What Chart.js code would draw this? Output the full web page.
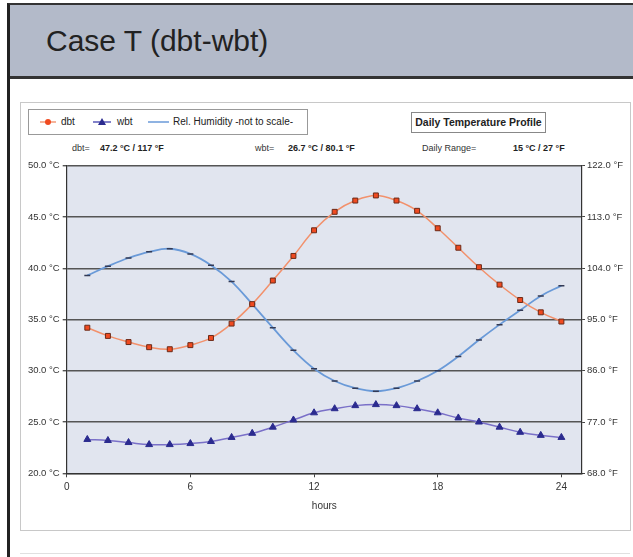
<!DOCTYPE html>
<html>
<head>
<meta charset="utf-8">
<script src="https://cdn.jsdelivr.net/npm/chart.js@4.4.0/dist/chart.umd.min.js"></script>
<style>
    body { margin: 0; width: 633px; height: 557px; background: #fff; position: relative; overflow: hidden;
           font-family: 'Liberation Sans', Arial, sans-serif; color: #333; }
    .abs { position: absolute; }
    #header { left: 7px; top: 3px; width: 626px; height: 71px; background: #b3bac9;
              border-top: 2px solid #333; border-left: 3px solid #222; border-bottom: 3px solid #333; }
    #title { left: 46px; top: 24px; font-size: 30px; color: #222; white-space: nowrap; }
    #leftLine { left: 7px; top: 76px; width: 3px; height: 481px; background: #222; }
    #frame { left: 20px; top: 102px; width: 609px; height: 427px; border: 1px solid #c8c8c8; }
    #bottomLine { left: 20px; top: 553px; width: 610px; height: 1px; background: #e0e0e0; }
    #legend { left: 28px; top: 109px; width: 278px; height: 24px; border: 1px solid #999; font-size: 10px; color: #222; }
    #legend span { position: absolute; top: 6px; white-space: nowrap; }
    #legend svg { position: absolute; top: 6px; }
    #profile { left: 411px; top: 112px; width: 133px; height: 19px; border: 1px solid #888;
               font-size: 10.5px; font-weight: bold; color: #222; text-align: center; line-height: 19px; }
    .stat { top: 143px; font-size: 9px; white-space: nowrap; }
    .stat b { color: #222; }
    #chartBox { left: 0; top: 150px; width: 633px; height: 370px; }
</style>
</head>
<body>
<div id="header" class="abs"></div>
<div id="title" class="abs">Case T (dbt-wbt)</div>
<div id="leftLine" class="abs"></div>
<div id="frame" class="abs"></div>
<div id="bottomLine" class="abs"></div>

<div id="legend" class="abs">
    <svg style="left:11px" width="16" height="12"><line x1="0" y1="6" x2="16" y2="6" stroke="#f39a78" stroke-width="1.5"/><circle cx="8" cy="6" r="3" fill="#f04a20"/></svg>
    <span style="left:32px">dbt</span>
    <svg style="left:64px" width="18" height="12"><line x1="0" y1="6" x2="18" y2="6" stroke="#5a5ab8" stroke-width="1.5"/><polygon points="9,2 13,9 5,9" fill="#2b2b8f"/></svg>
    <span style="left:88px">wbt</span>
    <svg style="left:119px" width="21" height="12"><line x1="0" y1="6" x2="21" y2="6" stroke="#6a9ad8" stroke-width="1.5"/></svg>
    <span style="left:144px">Rel. Humidity -not to scale-</span>
</div>
<div id="profile" class="abs">Daily Temperature Profile</div>

<div class="abs stat" style="left:72px">dbt=</div>
<div class="abs stat" style="left:100px"><b>47.2 °C / 117 °F</b></div>
<div class="abs stat" style="left:255px">wbt=</div>
<div class="abs stat" style="left:288px"><b>26.7 °C / 80.1 °F</b></div>
<div class="abs stat" style="left:422px">Daily Range=</div>
<div class="abs stat" style="left:513px"><b>15 °C / 27 °F</b></div>

<div id="chartBox" class="abs"><canvas id="profileChart" width="633" height="370"></canvas></div>

<script>
const hours = [1, 2, 3, 4, 5, 6, 7, 8, 9, 10, 11, 12, 13, 14, 15, 16, 17, 18, 19, 20, 21, 22, 23, 24];
const dbt = [34.2, 33.4, 32.8, 32.3, 32.1, 32.5, 33.2, 34.6, 36.5, 38.8, 41.2, 43.7, 45.5, 46.6, 47.1, 46.6, 45.6, 43.9, 42.0, 40.1, 38.4, 36.9, 35.7, 34.8];
const wbt = [23.3, 23.2, 23.0, 22.8, 22.8, 22.9, 23.1, 23.5, 23.9, 24.5, 25.2, 25.9, 26.3, 26.6, 26.7, 26.6, 26.3, 25.9, 25.4, 25.0, 24.5, 24.0, 23.7, 23.5];
const relHumidity = [39.3, 40.2, 41.0, 41.6, 41.9, 41.4, 40.3, 38.7, 36.5, 34.2, 32.0, 30.2, 29.0, 28.3, 28.0, 28.3, 29.0, 30.0, 31.4, 33.0, 34.5, 35.9, 37.3, 38.3];
const hourTicks = [0, 6, 12, 18, 24];
const celsiusRange = [20, 50, 5];
const fahrenheitRange = [68, 122, 9];

Chart.defaults.font.family = "'Liberation Sans', Arial, sans-serif";
Chart.defaults.color = '#333';

function toPoints(values) {
    return values.map((v, i) => ({ x: hours[i], y: v }));
}

// light grey-blue plot background like the excel chart
const plotBackground = {
    id: 'plotBackground',
    beforeDraw(chart) {
        const a = chart.chartArea;
        const ctx = chart.ctx;
        ctx.save();
        ctx.fillStyle = '#e1e5ef';
        ctx.fillRect(a.left, a.top, a.right - a.left, a.bottom - a.top);
        ctx.restore();
    }
};

const ctx = document.getElementById('profileChart').getContext('2d');
new Chart(ctx, {
    type: 'line',
    data: {
        datasets: [
            {
                label: 'dbt',
                data: toPoints(dbt),
                borderColor: '#f2916c',
                borderWidth: 1.5,
                tension: 0.4,
                pointStyle: 'rect',
                pointRadius: 3.5,
                pointBackgroundColor: '#f04a20',
                pointBorderColor: '#6a2a18',
                pointBorderWidth: 1
            },
            {
                label: 'wbt',
                data: toPoints(wbt),
                borderColor: '#7a70c8',
                borderWidth: 1.5,
                tension: 0.4,
                pointStyle: 'triangle',
                pointRadius: 4,
                pointBackgroundColor: '#2b2b8f',
                pointBorderColor: '#2b2b8f',
                pointBorderWidth: 1
            },
            {
                label: 'Rel. Humidity -not to scale-',
                data: toPoints(relHumidity),
                borderColor: '#6a9ad8',
                borderWidth: 1.8,
                tension: 0.4,
                pointStyle: 'line',
                pointRadius: 3,
                pointBorderColor: '#333a55',
                pointBorderWidth: 1.5
            }
        ]
    },
    options: {
        responsive: false,
        animation: false,
        layout: { padding: { top: 15.7, left: 0, right: 0, bottom: 0 } },
        plugins: {
            legend: { display: false },
            tooltip: { enabled: false }
        },
        scales: {
            x: {
                type: 'linear',
                min: 0,
                max: 25,
                afterBuildTicks: (scale) => {
                    scale.ticks = hourTicks.map(v => ({ value: v }));
                },
                afterFit: (scale) => { scale.height = 46.7; },
                ticks: { stepSize: 6, padding: 4, font: { size: 10 }, color: '#333', maxRotation: 0 },
                grid: { drawOnChartArea: false, drawTicks: true, tickLength: 4, color: '#444' },
                border: { display: true, color: '#333', width: 1.2 },
                title: { display: true, text: 'hours', font: { size: 10 }, color: '#333', padding: { top: 0, bottom: 8 } }
            },
            y: {
                position: 'left',
                min: celsiusRange[0],
                max: celsiusRange[1],
                afterFit: (scale) => { scale.width = 66.7; },
                ticks: {
                    stepSize: celsiusRange[2],
                    padding: 3,
                    font: { size: 9.5 },
                    color: '#333',
                    callback: (v) => v.toFixed(1) + ' °C'
                },
                grid: { color: '#555', lineWidth: 1.4, tickLength: 4 },
                border: { display: true, color: '#333', width: 1.2 }
            },
            y2: {
                position: 'right',
                min: fahrenheitRange[0],
                max: fahrenheitRange[1],
                afterFit: (scale) => { scale.width = 51; },
                ticks: {
                    stepSize: fahrenheitRange[2],
                    padding: 2,
                    font: { size: 9.5 },
                    color: '#333',
                    callback: (v) => v.toFixed(1) + ' °F'
                },
                grid: { drawOnChartArea: false, color: '#444', tickLength: 3 },
                border: { display: true, color: '#333', width: 1.2 }
            }
        }
    },
    plugins: [plotBackground]
});
</script>
</body>
</html>
